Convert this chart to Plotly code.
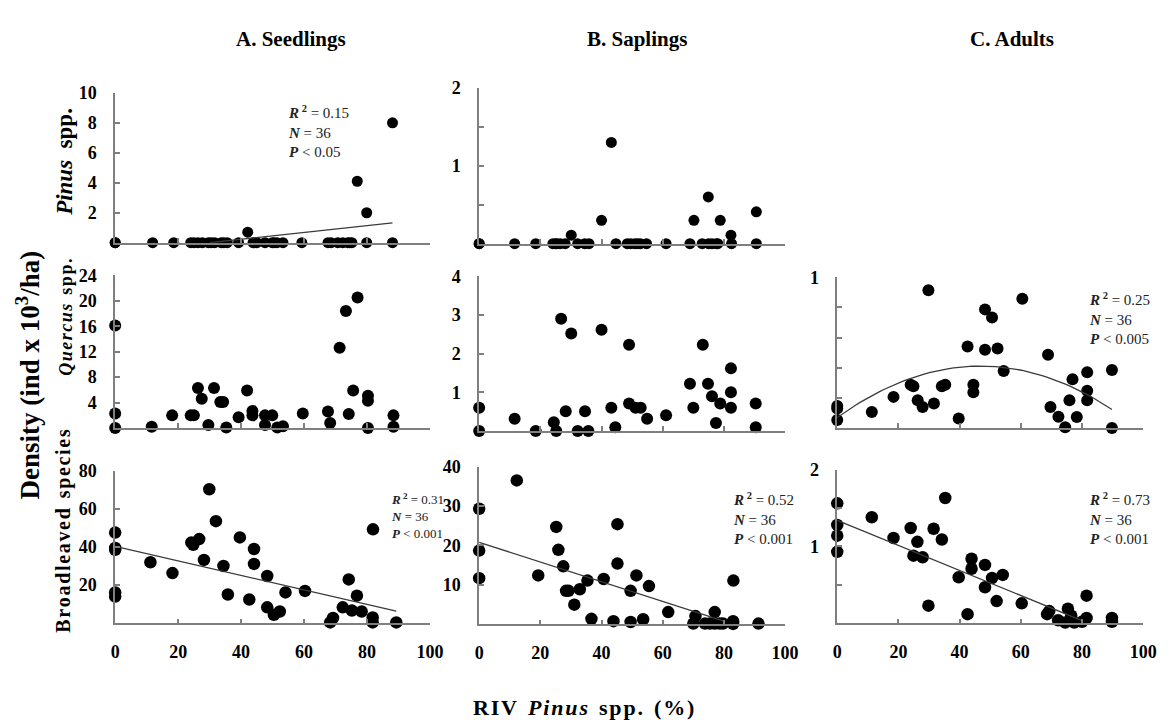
import numpy as np
import plotly.graph_objects as go

W, H = 1168, 720
SERIF = "Liberation Serif"

# ---------------- data ----------------
x_ticks = [0, 20, 40, 60, 80, 100]
x_ticklabels = ["0", "20", "40", "60", "80", "100"]

# A. Seedlings
seed_pinus_x = [0, 0, 11.9, 18.6, 24.0, 25.0, 26.3, 27.7, 29.6, 31.6,
                33.7, 34.5, 35.6, 39.2, 42.1, 43.8, 47.6, 49.9, 51.4, 53.3,
                59.3, 67.6, 68.6, 70.7, 72.3, 73.9, 75.2, 76.9, 79.9, 79.9,
                88.1, 88.1, 30.5, 45.0, 50.5, 74.5]
seed_pinus_y = [0, 0, 0, 0, 0, 0, 0, 0, 0, 0,
                0, 0, 0, 0, 0.7, 0, 0, 0, 0, 0,
                0, 0, 0, 0, 0, 0, 0, 4.1, 2.0, 0,
                8.0, 0, 0, 0, 0, 0]

seed_quercus_x = [0, 0, 0, 11.6, 18.1, 24.0, 25.0, 26.3, 27.5, 29.6,
                  31.4, 33.4, 34.3, 35.3, 39.2, 41.9, 43.6, 43.6, 47.6, 47.6,
                  49.9, 51.5, 53.3, 59.6, 67.6, 68.3, 71.3, 73.3, 74.2, 75.6,
                  77.0, 80.3, 80.3, 80.3, 88.4, 88.4]
seed_quercus_y = [16.1, 2.3, 0, 0.2, 2.0, 2.0, 2.0, 6.3, 4.6, 0.5,
                  6.3, 4.1, 4.1, 0.1, 1.7, 5.9, 2.7, 2.0, 2.0, 0.5,
                  2.0, 0.1, 0.3, 2.3, 2.6, 0.8, 12.6, 18.4, 2.2, 5.9,
                  20.5, 5.1, 4.3, 0, 2.0, 0.2]

seed_broad_x = [0, 0, 0, 0, 0, 11.2, 18.2, 24.2, 24.8, 26.7,
                28.2, 29.9, 32.0, 34.4, 35.8, 39.6, 42.6, 44.1, 44.1, 48.3,
                48.3, 50.4, 52.3, 54.1, 60.3, 68.3, 69.2, 72.3, 74.2, 75.2,
                76.8, 78.3, 81.8, 81.8, 81.9, 89.3]
seed_broad_y = [47.5, 39.5, 38.5, 16.2, 14.0, 32.0, 26.3, 42.3, 41.1, 44.1,
                33.2, 70.2, 53.5, 30.0, 15.1, 45.0, 12.5, 38.9, 31.1, 24.8,
                8.4, 4.5, 6.2, 16.2, 17.0, 0.5, 2.8, 8.4, 23.0, 6.7,
                14.5, 6.2, 3.1, 0.5, 49.2, 0.5]

# B. Saplings
sap_pinus_x = [0, 0, 11.6, 18.5, 24.1, 25.0, 25.4, 26.5, 28.1, 30.1,
               32.2, 34.5, 35.9, 40.0, 43.2, 44.7, 48.4, 49.5, 50.9, 51.8,
               52.7, 54.7, 61.1, 68.9, 70.2, 72.9, 74.9, 75.0, 76.1, 77.5,
               78.0, 78.8, 82.3, 82.5, 90.6, 90.6]
sap_pinus_y = [0, 0, 0, 0, 0, 0, 0, 0, 0, 0.11,
               0, 0, 0, 0.30, 1.3, 0, 0, 0, 0, 0,
               0, 0, 0, 0, 0.30, 0, 0.6, 0, 0, 0,
               0, 0.30, 0.11, 0, 0, 0.41]

sap_quercus_x = [0, 0, 11.6, 18.5, 24.4, 25.2, 26.8, 28.3, 30.1, 32.2,
                 34.6, 35.7, 40.0, 43.2, 44.5, 49.0, 49.0, 51.1, 52.8, 54.9,
                 61.1, 68.9, 70.0, 73.1, 74.8, 76.1, 77.4, 78.8, 82.3, 82.3,
                 82.3, 90.4, 90.4]
sap_quercus_y = [0.6, 0, 0.32, 0, 0.23, 0, 2.9, 0.51, 2.52, 0,
                 0.51, 0, 2.62, 0.6, 0.1, 2.23, 0.71, 0.6, 0.6, 0.32,
                 0.41, 1.22, 0.6, 2.23, 1.22, 0.9, 0.21, 0.71, 1.62, 1.0,
                 0.6, 0.71, 0.1]

sap_broad_x = [0, 0, 0, 12.3, 19.3, 25.2, 25.9, 27.5, 28.4, 29.2,
               31.1, 32.9, 35.4, 36.7, 40.7, 43.9, 45.2, 45.2, 49.5, 49.5,
               51.4, 53.6, 55.5, 61.8, 70.7, 70.0, 73.8, 75.4, 77.0, 77.0,
               78.6, 79.7, 83.1, 83.0, 83.0, 91.3]
sap_broad_y = [29.3, 18.7, 11.7, 36.5, 12.4, 24.7, 18.9, 14.7, 8.5, 8.5,
               5.0, 8.9, 11.1, 1.4, 11.5, 0.8, 25.4, 15.4, 8.5, 0.6,
               12.4, 1.3, 9.7, 3.1, 2.1, 0.2, 0.2, 0.2, 3.1, 0.2,
               0.2, 0.2, 11.1, 0.8, 0.1, 0.2]

# C. Adults
adult_quercus_x = [0, 0, 0, 11.3, 18.4, 24.0, 24.9, 26.3, 27.9, 29.8,
                   31.6, 34.2, 35.3, 39.7, 42.6, 44.5, 44.5, 48.3, 48.3, 50.6,
                   52.4, 54.4, 60.5, 68.9, 69.7, 72.3, 74.5, 75.9, 76.9, 78.3,
                   81.7, 81.7, 81.7, 89.8, 89.8]
adult_quercus_y = [0.146, 0.13, 0.054, 0.106, 0.207, 0.287, 0.277, 0.185, 0.14, 0.913,
                   0.163, 0.277, 0.287, 0.063, 0.541, 0.287, 0.237, 0.787, 0.52, 0.733,
                   0.528, 0.378, 0.857, 0.487, 0.14, 0.076, 0.005, 0.185, 0.324, 0.074,
                   0.37, 0.248, 0.185, 0.385, 0.0]

adult_broad_x = [0, 0, 0, 0, 11.3, 18.4, 24.0, 24.9, 26.2, 27.9,
                 29.8, 31.5, 34.2, 35.3, 39.7, 42.6, 43.9, 43.9, 48.3, 48.3,
                 50.6, 52.1, 54.1, 60.3, 68.6, 69.3, 72.2, 74.5, 75.4, 76.5,
                 77.5, 80.0, 81.5, 81.5, 89.8, 89.8]
adult_broad_y = [1.56, 1.28, 1.14, 0.93, 1.38, 1.11, 1.24, 0.88, 1.06, 0.86,
                 0.23, 1.23, 1.09, 1.63, 0.60, 0.12, 0.84, 0.71, 0.76, 0.47,
                 0.59, 0.29, 0.63, 0.26, 0.12, 0.16, 0.04, 0.01, 0.19, 0.10,
                 0.01, 0.02, 0.36, 0.07, 0.07, 0.02]

# regression fits: polynomial coefficients (c0, c1, c2) and x-range drawn
fit_seed_pinus = dict(coef=[-0.683, 0.02276, 0.0], xr=[30, 88.1])
fit_seed_broad = dict(coef=[40.3, -0.38, 0.0], xr=[0, 89.3])
fit_sap_broad = dict(coef=[20.8, -0.25, 0.0], xr=[0, 80])
fit_adult_quercus = dict(coef=[0.07, 0.01458, -0.0001557], xr=[0, 89.8])
fit_adult_broad = dict(coef=[1.34, -0.0163, 0.0], xr=[0, 80])

stats_seed_pinus = ["0.15", "36", "0.05"]
stats_seed_broad = ["0.31", "36", "0.001"]
stats_sap_broad = ["0.52", "36", "0.001"]
stats_adult_quercus = ["0.25", "36", "0.005"]
stats_adult_broad = ["0.73", "36", "0.001"]

# ---------------- layout helpers ----------------
col_px = {"A": (112, 432), "B": (482, 793), "C": (846, 1157)}

panels = [
    dict(col="A", x=seed_pinus_x, y=seed_pinus_y, ypx=(236, 84), ymax=10,
         tv=[2, 4, 6, 8, 10], minor=None, xl=False, ms=11,
         fit=fit_seed_pinus, stats=stats_seed_pinus, spx=(286, 123)),
    dict(col="B", x=sap_pinus_x, y=sap_pinus_y, ypx=(237, 79), ymax=2,
         tv=[1, 2], minor=0.5, xl=False, ms=11),
    dict(col="A", x=seed_quercus_x, y=seed_quercus_y, ypx=(424, 269), ymax=24,
         tv=[4, 8, 12, 16, 20, 24], minor=None, xl=False, ms=12),
    dict(col="B", x=sap_quercus_x, y=sap_quercus_y, ypx=(427, 270), ymax=4,
         tv=[1, 2, 3, 4], minor=None, xl=False, ms=12),
    dict(col="C", x=adult_quercus_x, y=adult_quercus_y, ypx=(424, 271), ymax=1,
         tv=[1], minor=0.2, xl=False, ms=12,
         fit=fit_adult_quercus, stats=stats_adult_quercus, spx=(1100, 313)),
    dict(col="A", x=seed_broad_x, y=seed_broad_y, ypx=(622, 467), ymax=80,
         tv=[20, 40, 60, 80], minor=None, xl=True, ms=12.5,
         fit=fit_seed_broad, stats=stats_seed_broad, spx=(390, 513), ssize=13),
    dict(col="B", x=sap_broad_x, y=sap_broad_y, ypx=(623, 463), ymax=40,
         tv=[10, 20, 30, 40], minor=None, xl=True, ms=12.5,
         fit=fit_sap_broad, stats=stats_sap_broad, spx=(738, 516)),
    dict(col="C", x=adult_broad_x, y=adult_broad_y, ypx=(622, 466), ymax=2,
         tv=[1, 2], minor=0.5, xl=True, ms=12.5,
         fit=fit_adult_broad, stats=stats_adult_broad, spx=(1100, 516)),
]

AXC = "#7f7f7f"
TICKFONT = dict(family=SERIF, size=18, color="black", weight="bold")
fig = go.Figure()
annotations = []

for i, p in enumerate(panels, start=1):
    xa = "x" if i == 1 else f"x{i}"
    ya = "y" if i == 1 else f"y{i}"
    x0, x1 = col_px[p["col"]]
    yb, yt = p["ypx"]
    fig.add_trace(go.Scatter(
        x=p["x"], y=p["y"], mode="markers", xaxis=xa, yaxis=ya,
        marker=dict(color="black", size=p["ms"]),
        cliponaxis=False, showlegend=False, hoverinfo="skip"))
    if "fit" in p:
        c = p["fit"]["coef"]
        xs = np.linspace(p["fit"]["xr"][0], p["fit"]["xr"][1], 60)
        ys = c[0] + c[1] * xs + c[2] * xs ** 2
        fig.add_trace(go.Scatter(
            x=xs, y=ys, mode="lines", xaxis=xa, yaxis=ya,
            line=dict(color="#3a3a3a", width=1.3),
            cliponaxis=False, showlegend=False, hoverinfo="skip"))
    axkey_x = "xaxis" if i == 1 else f"xaxis{i}"
    axkey_y = "yaxis" if i == 1 else f"yaxis{i}"
    ydict = dict(domain=[1 - yb / H, 1 - yt / H], anchor=xa, range=[0, p["ymax"]],
                 tickmode="array", tickvals=p["tv"], ticktext=[f"{v:g}" for v in p["tv"]],
                 showgrid=False, zeroline=False,
                 showline=True, linecolor=AXC, linewidth=1.5,
                 ticks="inside", ticklen=5, tickwidth=1.5, tickcolor=AXC,
                 ticklabelstandoff=13, tickfont=TICKFONT)
    if p["minor"]:
        ydict["minor"] = dict(tick0=0, dtick=p["minor"], ticks="inside", ticklen=5,
                              tickwidth=1.5, tickcolor=AXC, showgrid=False)
    fig.update_layout(**{
        axkey_x: dict(domain=[x0 / W, x1 / W], anchor=ya, range=[0, 100],
                      tickmode="array", tickvals=x_ticks, ticktext=x_ticklabels,
                      showticklabels=p["xl"], showgrid=False, zeroline=False,
                      showline=True, linecolor=AXC, linewidth=1.5,
                      ticks="inside", ticklen=5, tickwidth=1.5, tickcolor=AXC,
                      ticklabelstandoff=11, tickfont=TICKFONT),
        axkey_y: ydict,
    })
    if "stats" in p:
        r2, n, pv = p["stats"]
        sx, sy = p["spx"]
        txt = (f"<b><i>R</i><sup> 2</sup></b> = {r2}<br>"
               f"<b><i>N</i></b> = {n}<br>"
               f"<b><i>P</i></b> &lt; {pv}")
        annotations.append(dict(
            text=txt, xref="paper", yref="paper", x=sx / W, y=1 - sy / H,
            xanchor="left", yanchor="middle", align="left", showarrow=False,
            font=dict(family=SERIF, size=p.get("ssize", 15), color="#222")))

# column titles
for label, cx in [("A. Seedlings", 291), ("B. Saplings", 642), ("C. Adults", 1024)]:
    annotations.append(dict(text=f"<b>{label}</b>", xref="paper", yref="paper",
                            x=cx / W, y=1 - 29 / H, xanchor="center", yanchor="middle",
                            showarrow=False, font=dict(family=SERIF, size=21, color="black")))

HS = "\u200a"   # hair space used as letter spacing
WS = "\u2002"   # en space between words
def spaced(s):
    return HS.join(list(s))

# row labels
row_labels = [(f"<b><i>Pinus</i>{WS}spp.</b>", 61, 154, 23),
              (f"<b><i>{spaced('Quercus')}</i>{WS}{spaced('spp.')}</b>", 62, 311, 18),
              (f"<b>{spaced('Broadleaved')}{WS}{spaced('species')}</b>", 60, 528, 20)]
for txt, cx, cy, fs in row_labels:
    annotations.append(dict(text=txt, xref="paper", yref="paper", x=cx / W, y=1 - cy / H,
                            xanchor="center", yanchor="middle", textangle=-90,
                            showarrow=False, font=dict(family=SERIF, size=fs, color="black")))

annotations.append(dict(text="<b>Density (ind x 10<sup>3</sup>/ha)</b>", xref="paper", yref="paper",
                        x=23 / W, y=1 - 370 / H, xanchor="center", yanchor="middle",
                        textangle=-90, showarrow=False,
                        font=dict(family=SERIF, size=27, color="black")))
annotations.append(dict(text=f"<b>{spaced('RIV')}{WS}<i>{spaced('Pinus')}</i>{WS}{spaced('spp.')}{WS}{spaced('(%)')}</b>",
                        xref="paper", yref="paper",
                        x=588 / W, y=1 - 707 / H, xanchor="center", yanchor="middle",
                        showarrow=False, font=dict(family=SERIF, size=22, color="black")))

fig.update_layout(width=W, height=H, margin=dict(l=0, r=0, t=0, b=0),
                  paper_bgcolor="white", plot_bgcolor="white",
                  showlegend=False, annotations=annotations)

fig.write_html("out.html")
